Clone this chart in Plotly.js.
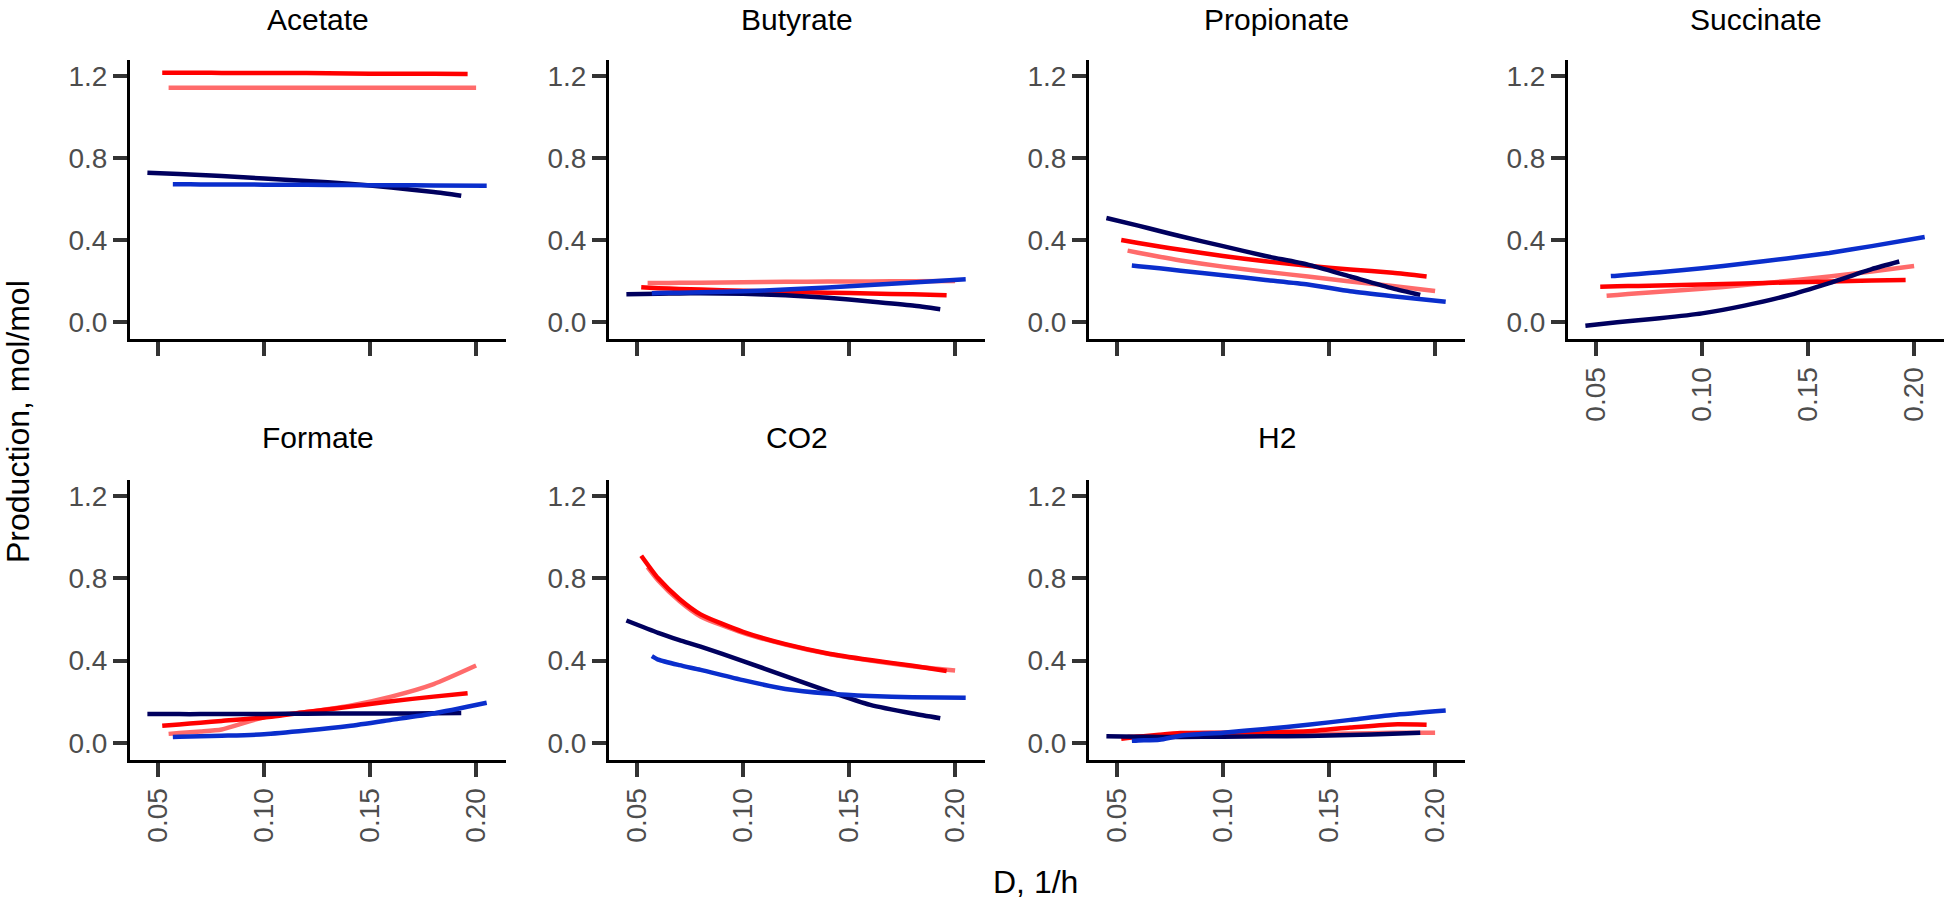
<!DOCTYPE html>
<html>
<head>
<meta charset="utf-8">
<script src="https://cdn.plot.ly/plotly-3.0.1.min.js"></script>
<style>
  html, body { margin: 0; padding: 0; background: #fff; }
  #chart { width: 1950px; height: 902px; }
</style>
</head>
<body>
<div id="chart"></div>
<script>
// panel names, in facet order
let panels = ["Acetate", "Butyrate", "Propionate", "Succinate", "Formate", "CO2", "H2"];

// dilution rate (x) sampled for each series
let salmonX = [0.055, 0.06, 0.07, 0.08, 0.10, 0.12, 0.14, 0.16, 0.18, 0.200];
let redX    = [0.052, 0.06, 0.07, 0.08, 0.10, 0.12, 0.14, 0.16, 0.18, 0.196];
let navyX   = [0.045, 0.06, 0.07, 0.08, 0.10, 0.12, 0.14, 0.16, 0.18, 0.193];
let blueX   = [0.057, 0.06, 0.07, 0.08, 0.10, 0.12, 0.14, 0.16, 0.18, 0.205];

// production, mol/mol, one row per panel
let salmonY = [
  [1.143, 1.143, 1.143, 1.143, 1.143, 1.143, 1.143, 1.143, 1.143, 1.143],
  [0.190, 0.190, 0.191, 0.192, 0.194, 0.196, 0.197, 0.198, 0.199, 0.200],
  [0.348, 0.338, 0.318, 0.300, 0.270, 0.245, 0.222, 0.198, 0.175, 0.151],
  [0.128, 0.132, 0.140, 0.148, 0.162, 0.180, 0.200, 0.222, 0.246, 0.273],
  [0.044, 0.048, 0.055, 0.065, 0.125, 0.150, 0.180, 0.225, 0.286, 0.376],
  [0.855, 0.790, 0.690, 0.615, 0.535, 0.478, 0.433, 0.400, 0.373, 0.352],
  [0.030, 0.032, 0.033, 0.035, 0.038, 0.040, 0.043, 0.046, 0.049, 0.050]
];
let redY = [
  [1.216, 1.216, 1.216, 1.215, 1.215, 1.214, 1.212, 1.211, 1.211, 1.210],
  [0.170, 0.165, 0.161, 0.158, 0.152, 0.147, 0.143, 0.139, 0.135, 0.130],
  [0.400, 0.385, 0.368, 0.352, 0.322, 0.296, 0.274, 0.256, 0.240, 0.222],
  [0.172, 0.174, 0.176, 0.178, 0.183, 0.188, 0.193, 0.198, 0.202, 0.205],
  [0.083, 0.090, 0.098, 0.107, 0.124, 0.150, 0.176, 0.203, 0.225, 0.242],
  [0.910, 0.800, 0.700, 0.625, 0.540, 0.480, 0.435, 0.403, 0.375, 0.350],
  [0.020, 0.030, 0.040, 0.048, 0.050, 0.053, 0.057, 0.075, 0.090, 0.088]
];
let navyY = [
  [0.728, 0.722, 0.717, 0.712, 0.700, 0.688, 0.674, 0.656, 0.634, 0.616],
  [0.135, 0.138, 0.139, 0.140, 0.138, 0.130, 0.118, 0.100, 0.080, 0.062],
  [0.507, 0.470, 0.444, 0.418, 0.370, 0.322, 0.280, 0.222, 0.164, 0.132],
  [-0.018, -0.001, 0.008, 0.018, 0.042, 0.080, 0.128, 0.190, 0.258, 0.295],
  [0.140, 0.140, 0.140, 0.141, 0.141, 0.142, 0.143, 0.143, 0.144, 0.145],
  [0.595, 0.535, 0.500, 0.468, 0.398, 0.325, 0.252, 0.185, 0.143, 0.120],
  [0.032, 0.030, 0.029, 0.029, 0.030, 0.032, 0.034, 0.038, 0.044, 0.050]
];
let blueY = [
  [0.672, 0.672, 0.671, 0.671, 0.670, 0.669, 0.668, 0.667, 0.666, 0.665],
  [0.140, 0.141, 0.143, 0.145, 0.150, 0.158, 0.168, 0.180, 0.193, 0.208],
  [0.275, 0.272, 0.262, 0.250, 0.228, 0.205, 0.183, 0.150, 0.126, 0.099],
  [0.224, 0.226, 0.234, 0.243, 0.262, 0.285, 0.310, 0.337, 0.370, 0.415],
  [0.029, 0.030, 0.032, 0.035, 0.042, 0.060, 0.082, 0.112, 0.143, 0.195],
  [0.422, 0.405, 0.378, 0.355, 0.305, 0.262, 0.240, 0.228, 0.222, 0.220],
  [0.010, 0.012, 0.015, 0.035, 0.050, 0.068, 0.088, 0.112, 0.136, 0.158]
];

let yTicks = [0.0, 0.4, 0.8, 1.2];
let xTicks = [0.05, 0.10, 0.15, 0.20];

// drawing order: salmon under red, blue on top
let series = [
  {x: salmonX, y: salmonY, color: "#ff6b6b"},
  {x: redX,    y: redY,    color: "#ff0000"},
  {x: navyX,   y: navyY,   color: "#00005e"},
  {x: blueX,   y: blueY,   color: "#0a2ecc"}
];

// panel pixel boxes (left edge of each column, top/bottom of each row)
let W = 1950, H = 902;
let colLeft = [130, 609, 1089, 1568];
let panelW = 376;
let rowTop = [60, 480];
let rowBottom = [339, 760];

let traces = [];
let layout = {
  width: W, height: H,
  margin: {l: 0, r: 0, t: 0, b: 0},
  paper_bgcolor: "#ffffff",
  plot_bgcolor: "#ffffff",
  showlegend: false,
  font: {family: "Liberation Sans, Arial, sans-serif", color: "#000000"},
  annotations: []
};

panels.forEach(function (name, i) {
  let row = i < 4 ? 0 : 1;
  let col = i % 4;
  let n = i + 1;
  let xa = "x" + (n === 1 ? "" : n);
  let ya = "y" + (n === 1 ? "" : n);

  series.forEach(function (s) {
    traces.push({
      x: s.x, y: s.y[i],
      xaxis: xa, yaxis: ya,
      type: "scatter", mode: "lines",
      line: {color: s.color, width: 4.5, shape: "spline", smoothing: 0.6},
      hoverinfo: "skip"
    });
  });

  let x0 = colLeft[col] / W, x1 = (colLeft[col] + panelW) / W;
  let y0 = (H - rowBottom[row]) / H, y1 = (H - rowTop[row]) / H;
  // bottom row panels and Succinate (nothing below it) carry x labels
  let showX = row === 1 || col === 3;

  layout["xaxis" + (n === 1 ? "" : n)] = {
    domain: [x0, x1],
    anchor: ya,
    range: [0.0368, 0.2141],
    tickvals: xTicks,
    ticktext: xTicks.map(function (v) { return v.toFixed(2); }),
    tickangle: -90,
    showticklabels: showX,
    ticks: "outside", ticklen: 14, tickwidth: 4, tickcolor: "#333333",
    showline: true, linecolor: "#000000", linewidth: 3,
    showgrid: false, zeroline: false,
    tickfont: {size: 28, color: "#4d4d4d"}
  };
  layout["yaxis" + (n === 1 ? "" : n)] = {
    domain: [y0, y1],
    anchor: xa,
    range: [-0.083, 1.278],
    tickvals: yTicks,
    ticktext: yTicks.map(function (v) { return v.toFixed(1); }),
    ticks: "outside", ticklen: 14, tickwidth: 4, tickcolor: "#333333",
    showline: true, linecolor: "#000000", linewidth: 3,
    showgrid: false, zeroline: false,
    tickfont: {size: 28, color: "#4d4d4d"}
  };

  // facet strip title
  layout.annotations.push({
    text: name, showarrow: false,
    xref: "paper", yref: "paper",
    x: (x0 + x1) / 2, y: (H - (row === 0 ? 19 : 437)) / H,
    xanchor: "center", yanchor: "middle",
    font: {size: 30, color: "#000000"}
  });
});

// shared axis titles
layout.annotations.push({
  text: "D, 1/h", showarrow: false,
  xref: "paper", yref: "paper",
  x: 1035 / W, y: 20 / H, xanchor: "center", yanchor: "middle",
  font: {size: 32, color: "#000000"}
});
layout.annotations.push({
  text: "Production, mol/mol", showarrow: false,
  xref: "paper", yref: "paper",
  x: 18 / W, y: (H - 422) / H, xanchor: "center", yanchor: "middle",
  textangle: -90,
  font: {size: 32, color: "#000000"}
});

Plotly.newPlot("chart", traces, layout, {staticPlot: true, displayModeBar: false});
</script>
</body>
</html>
